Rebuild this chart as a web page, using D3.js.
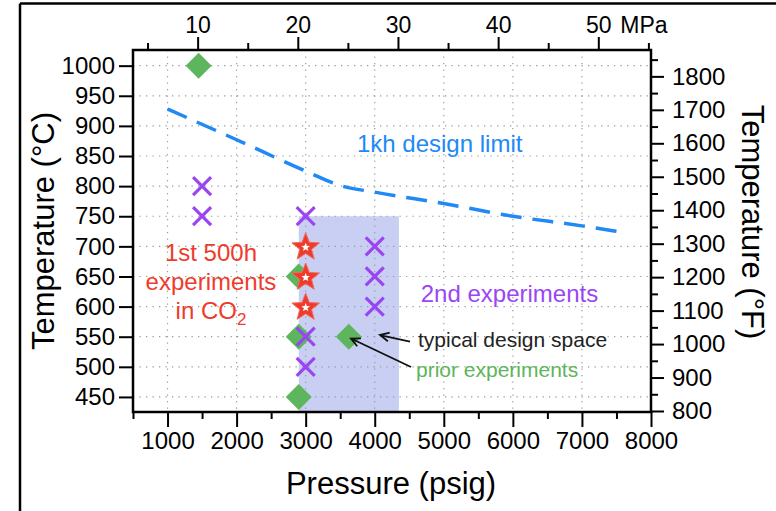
<!DOCTYPE html>
<html><head><meta charset="utf-8">
<script src="https://cdn.jsdelivr.net/npm/d3@7"></script>
<style>
body{margin:0;background:#fff}
svg{display:block}
text{font-family:"Liberation Sans",Arial,Helvetica,sans-serif}
</style>
</head><body>
<svg id="c" width="776" height="511"></svg>
<script>
// ---------- data ----------
const pressureTicks = [1000, 2000, 3000, 4000, 5000, 6000, 7000, 8000];
const pressureMinor = [500, 1500, 2500, 3500, 4500, 5500, 6500, 7500];
const tempCTicks = [450, 500, 550, 600, 650, 700, 750, 800, 850, 900, 950, 1000];
const tempFTicks = [800, 900, 1000, 1100, 1200, 1300, 1400, 1500, 1600, 1700, 1800];
const tempFMinor = [850, 950, 1050, 1150, 1250, 1350, 1450, 1550, 1650, 1750, 1850];
const mpaTicks = [10, 20, 30, 40, 50];
const mpaMinor = [5, 15, 25, 35, 45, 55];

const priorP = [1450, 2900, 2900, 2900, 3625];
const priorT = [1000, 650, 550, 450, 550];
const secondP = [1500, 1500, 3000, 3000, 3000, 4000, 4000, 4000];
const secondT = [800, 750, 750, 550, 500, 700, 650, 600];
const firstP = [3000, 3000, 3000];
const firstT = [700, 650, 600];
const limitP = [1000, 2000, 3000, 3500, 4000, 5000, 6000, 7000, 7500];
const limitT = [928, 877, 825, 801, 790, 771, 750, 734, 725];
const spaceP = [2900, 4350];
const spaceT = [425, 750];

// ---------- scales ----------
const svg = d3.select("#c");
const x = d3.scaleLinear().domain([500, 8000]).range([133, 651]);
const y = d3.scaleLinear().domain([425, 1026]).range([412, 50]);
const toMPa = p => (p + 14.7) * 0.00689476;
const toF = c => c * 9 / 5 + 32;
const xM = d3.scaleLinear().domain(x.domain().map(toMPa)).range(x.range());
const yF = d3.scaleLinear().domain(y.domain().map(toF)).range(y.range());

const L = 133, R = 651, T = 50, B = 412;

// outer frame
svg.append("line").attr("x1", 20).attr("y1", 3.5).attr("x2", 776).attr("y2", 3.5)
  .attr("stroke", "#000").attr("stroke-width", 2.5);
svg.append("line").attr("x1", 20).attr("y1", 3.5).attr("x2", 20).attr("y2", 511)
  .attr("stroke", "#000").attr("stroke-width", 2.5);

// design space shading
svg.append("rect")
  .attr("x", x(spaceP[0])).attr("width", x(spaceP[1]) - x(spaceP[0]))
  .attr("y", y(spaceT[1])).attr("height", y(spaceT[0]) - y(spaceT[1]))
  .attr("fill", "#c8cff2");

// grid
const grid = svg.append("g").attr("stroke", "#9a9a9a").attr("stroke-width", 1.2)
  .attr("stroke-dasharray", "1.3,5.2");
grid.selectAll(".gx").data(pressureTicks.filter(d => d < 8000)).join("line")
  .attr("x1", d => x(d)).attr("x2", d => x(d)).attr("y1", T).attr("y2", B);
grid.selectAll(".gy").data(tempCTicks).join("line")
  .attr("y1", d => y(d)).attr("y2", d => y(d)).attr("x1", L).attr("x2", R);

// design limit line
svg.append("path")
  .datum(limitP.map((p, i) => [p, limitT[i]]))
  .attr("d", d3.line().x(d => x(d[0])).y(d => y(d[1])).curve(d3.curveMonotoneX))
  .attr("fill", "none").attr("stroke", "#2089f5").attr("stroke-width", 3.5)
  .attr("stroke-dasharray", "21,11");

// prior experiments: diamonds
const dia = 13;
svg.selectAll(".dia").data(priorP.map((p, i) => [p, priorT[i]])).join("path")
  .attr("transform", d => `translate(${x(d[0])},${y(d[1])})`)
  .attr("d", `M0,${-dia}L${dia},0L0,${dia}L${-dia},0Z`)
  .attr("fill", "#5db55d");

// 2nd experiments: X
const xs = 9;
svg.selectAll(".xm").data(secondP.map((p, i) => [p, secondT[i]])).join("path")
  .attr("transform", d => `translate(${x(d[0])},${y(d[1])})`)
  .attr("d", `M${-xs},${-xs}L${xs},${xs}M${-xs},${xs}L${xs},${-xs}`)
  .attr("stroke", "#9b45f2").attr("stroke-width", 3.2).attr("fill", "none");

// 1st experiments: stars
function starPath(Ro, Ri) {
  const pts = [];
  for (let k = 0; k < 10; k++) {
    const r = k % 2 ? Ri : Ro;
    const a = -Math.PI / 2 + k * Math.PI / 5;
    pts.push([r * Math.cos(a), r * Math.sin(a)]);
  }
  return "M" + pts.map(p => p.join(",")).join("L") + "Z";
}
const stars = svg.selectAll(".st").data(firstP.map((p, i) => [p, firstT[i]])).join("g")
  .attr("transform", d => `translate(${x(d[0])},${y(d[1]) + 1})`);
stars.append("path").attr("d", starPath(14.5, 6.2)).attr("fill", "#ef3b2c")
  .attr("stroke", "#f26a5e").attr("stroke-width", 1);
stars.append("path").attr("d", starPath(4.5, 1.9)).attr("fill", "#fff");

// ---------- axes ----------
function styleAxis(size) {
  return g => {
    g.selectAll("path.domain").remove();
    g.selectAll("line").attr("stroke", "#000").attr("stroke-width", 2);
    g.selectAll("text").attr("font-size", size).attr("fill", "#000")
      .style("font-family", '"Liberation Sans",Arial,sans-serif');
  };
}
svg.append("g").attr("transform", `translate(0,${B})`)
  .call(d3.axisBottom(x).tickValues(pressureTicks).tickSize(15).tickPadding(5).tickFormat(d3.format("d")))
  .call(styleAxis(24));
svg.append("g").attr("transform", `translate(0,${B})`)
  .call(d3.axisBottom(x).tickValues(pressureMinor).tickSize(7).tickFormat(""))
  .call(styleAxis(24));
svg.append("g").attr("transform", `translate(${L},0)`)
  .call(d3.axisLeft(y).tickValues(tempCTicks).tickSize(14).tickPadding(4).tickFormat(d3.format("d")))
  .call(styleAxis(24));
svg.append("g").attr("transform", `translate(0,${T})`)
  .call(d3.axisTop(xM).tickValues(mpaTicks).tickSize(13).tickPadding(4).tickFormat(d3.format("d")))
  .call(styleAxis(23));
svg.append("g").attr("transform", `translate(0,${T})`)
  .call(d3.axisTop(xM).tickValues(mpaMinor).tickSize(7).tickFormat(""))
  .call(styleAxis(23));
svg.append("g").attr("transform", `translate(${R},0)`)
  .call(d3.axisRight(yF).tickValues(tempFTicks).tickSize(13).tickPadding(8).tickFormat(d3.format("d")))
  .call(styleAxis(24));
svg.append("g").attr("transform", `translate(${R},0)`)
  .call(d3.axisRight(yF).tickValues(tempFMinor).tickSize(7).tickFormat(""))
  .call(styleAxis(24));

svg.append("text").attr("x", xM(50) + 22).attr("y", T - 17).attr("font-size", 23).text("MPa");

// plot frame
svg.append("rect").attr("x", L).attr("y", T).attr("width", R - L).attr("height", B - T)
  .attr("fill", "none").attr("stroke", "#000").attr("stroke-width", 2.5);

// axis titles
svg.append("text").attr("x", 391).attr("y", 494).attr("text-anchor", "middle")
  .attr("font-size", 31).text("Pressure (psig)");
svg.append("text").attr("transform", "translate(54,231) rotate(-90)")
  .attr("text-anchor", "middle").attr("font-size", 31).text("Temperature (°C)");
svg.append("text").attr("transform", "translate(742,222) rotate(90)")
  .attr("text-anchor", "middle").attr("font-size", 31).text("Temperature (°F)");

// annotations
svg.append("text").attr("x", x(3743)).attr("y", y(857)).attr("font-size", 24)
  .attr("fill", "#2089f5").text("1kh design limit");
const red = svg.append("text").attr("x", x(1629)).attr("y", y(676.5)).attr("font-size", 24)
  .attr("fill", "#ef3b2c").attr("text-anchor", "middle");
red.append("tspan").attr("x", x(1629)).text("1st 500h");
red.append("tspan").attr("x", x(1629)).attr("dy", 29).text("experiments");
const l3 = red.append("tspan").attr("x", x(1629)).attr("dy", 29);
l3.append("tspan").text("in CO");
l3.append("tspan").attr("font-size", 17).attr("dy", 6).text("2");
svg.append("text").attr("x", x(4666)).attr("y", y(608)).attr("font-size", 24)
  .attr("fill", "#9b45f2").text("2nd experiments");
svg.append("text").attr("x", x(4626)).attr("y", y(533.4)).attr("font-size", 21)
  .attr("fill", "#222").text("typical design space");
svg.append("text").attr("x", x(4597)).attr("y", y(483.6)).attr("font-size", 21)
  .attr("fill", "#5db55d").text("prior experiments");

// arrows
const arrows = [[[4511, 542], [4076, 552.8]], [[4525, 499.7], [3656, 547]]];
arrows.forEach(([s, e]) => {
  const x1 = x(s[0]), y1 = y(s[1]), x2 = x(e[0]), y2 = y(e[1]);
  const a = Math.atan2(y1 - y2, x1 - x2);
  const h = 10, w = 0.45;
  svg.append("path")
    .attr("d", `M${x1},${y1}L${x2},${y2}M${x2 + h * Math.cos(a + w)},${y2 + h * Math.sin(a + w)}L${x2},${y2}L${x2 + h * Math.cos(a - w)},${y2 + h * Math.sin(a - w)}`)
    .attr("stroke", "#111").attr("stroke-width", 1.8).attr("fill", "none");
});
</script>
</body></html>
